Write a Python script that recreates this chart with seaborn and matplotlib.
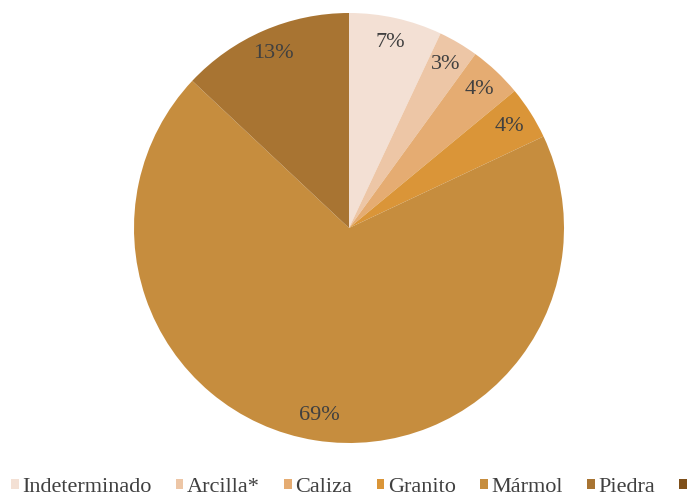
import matplotlib
matplotlib.use("Agg")
import matplotlib.pyplot as plt
import seaborn as sns
from matplotlib.patches import Patch

# the 7th legend entry is cut off at the right edge in the reference; only its marker is visible
categories = ["Indeterminado", "Arcilla*", "Caliza", "Granito", "Mármol", "Piedra", ""]
values = [7, 3, 4, 4, 69, 13, 0]
colors_hex = ["#F3E0D4", "#EDC6A6", "#E5AC72", "#DA9538", "#C68D3E", "#A87432", "#7E4F1A"]

sns.set_theme(style="white")
plt.rcParams["font.family"] = ["Liberation Serif", "DejaVu Serif"]
palette = sns.color_palette(colors_hex)

fig = plt.figure(figsize=(6.89, 4.98), dpi=100)
# pie centre ~ (349, 228) px, radius ~215 px
W, H = 689, 498
cx, cy, r = 349, 228, 215
ax = fig.add_axes([(cx - r) / W, 1 - (cy + r) / H, 2 * r / W, 2 * r / H])

def fmt(p):
    return f"{p:.0f}%" if p >= 0.5 else ""

wedges, texts, autotexts = ax.pie(
    values, colors=palette, startangle=90, counterclock=False,
    autopct=fmt, pctdistance=0.885, radius=1.0,
    wedgeprops=dict(edgecolor="none"),
    textprops=dict(color="#404040", fontsize=16),
)
ax.set_xlim(-1, 1)
ax.set_ylim(-1, 1)
ax.set_aspect("equal")

handles = [Patch(facecolor=c, edgecolor="none") for c in palette]
fig.legend(handles, categories, loc="lower left", bbox_to_anchor=(0.014, 0.0),
           ncol=7, frameon=False, fontsize=16, handlelength=0.35, handleheight=0.35,
           handletextpad=0.15, columnspacing=1.1, labelcolor="#404040",
           borderaxespad=0.0, borderpad=0.05)

fig.savefig("out.png", dpi=100)
